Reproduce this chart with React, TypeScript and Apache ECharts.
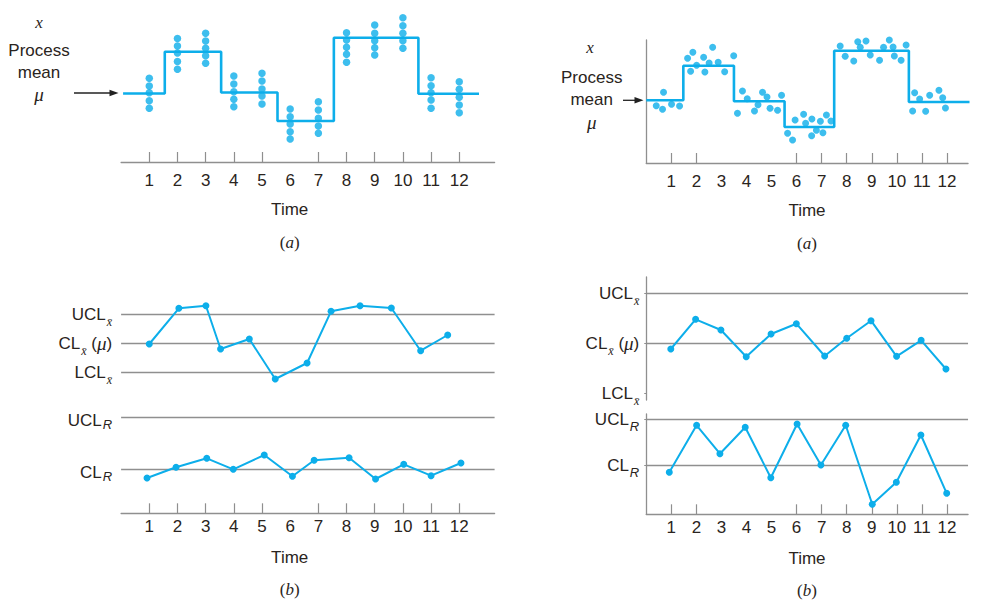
import React, { useEffect, useRef } from 'react';
import * as echarts from 'echarts';

// ---------- data ----------
const timeLabels = ['1', '2', '3', '4', '5', '6', '7', '8', '9', '10', '11', '12'];
const timeValues = [1, 2, 3, 4, 5, 6, 7, 8, 9, 10, 11, 12];
const ticksLeft = [1, 2, 3, 4, 5, 7, 8, 9, 10, 11, 12];
const ticksRight = [1, 2, 6, 7, 8, 9, 10, 11, 12];

// (a) left: process mean (step) and samples stacked at each time
const meanStepLeftX = [0.07, 1.55, 3.55, 5.55, 7.55, 10.55, 12.7];
const meanStepLeftY = [6.85, 11.03, 6.95, 4.1, 12.43, 6.83, 6.83];
const samplesLeft = [
  [8.37, 7.6, 6.93, 6.13, 5.37],
  [12.35, 11.6, 10.9, 10.05, 9.27],
  [12.87, 12.1, 11.37, 10.63, 9.87],
  [8.6, 7.8, 7.03, 6.27, 5.53],
  [8.87, 8.1, 7.3, 6.6, 5.8],
  [5.3, 4.53, 3.8, 3.03, 2.3],
  [6.03, 5.2, 4.37, 3.6, 2.87],
  [12.93, 12.2, 11.47, 10.77, 9.97],
  [13.7, 12.87, 12.13, 11.43, 10.7],
  [14.43, 13.63, 12.87, 12.13, 11.37],
  [8.43, 7.63, 6.93, 6.2, 5.37],
  [8.03, 7.27, 6.47, 5.7, 4.93],
];

// (a) right: process mean (step) and individual observations
const meanStepRightX = [0, 1.48, 3.5, 5.52, 7.5, 10.48, 12.9];
const meanStepRightY = [6.27, 9.73, 6.17, 3.6, 11.23, 6.1, 6.1];
const obsRightX = [
  0.4, 0.65, 0.69, 1.01, 1.33,
  1.65, 1.86, 1.77, 2.01, 2.29, 2.34, 2.51, 2.65, 2.87, 3.13, 3.49,
  3.64, 3.84, 4.03, 4.32, 4.46, 4.64, 4.82, 4.94, 5.24, 5.4,
  5.64, 5.84, 5.94, 6.28, 6.36, 6.61, 6.6, 6.79, 6.95, 7.05, 7.19, 7.37,
  7.74, 7.94, 8.28, 8.44, 8.54, 8.77, 8.94, 9.31, 9.47, 9.7, 9.85, 9.9, 10.17, 10.37,
  10.63, 10.71, 10.91, 11.15, 11.31, 11.68, 11.83, 11.94,
];
const obsRightY = [
  5.73, 5.37, 7.07, 5.87, 5.7,
  10.47, 11.07, 9.17, 9.77, 10.57, 9.1, 10.0, 11.57, 10.07, 9.13, 10.73,
  4.97, 7.2, 6.43, 5.2, 5.83, 7.07, 6.6, 5.47, 5.27, 6.77,
  2.97, 2.3, 4.3, 4.87, 3.97, 4.4, 2.73, 3.27, 4.17, 3.03, 4.8, 4.2,
  11.7, 10.67, 10.2, 12.13, 11.57, 12.2, 10.8, 10.27, 11.57, 12.3, 11.6, 10.7, 10.27, 11.8,
  5.2, 7.03, 6.4, 5.17, 6.77, 7.27, 6.53, 5.5,
];

// (b) left: x-bar and R charts
const xbarLeftX = [1.0, 2.05, 3.01, 3.53, 4.55, 5.47, 6.6, 7.45, 8.48, 9.59, 10.63, 11.59];
const xbarLeftY = [16.93, 20.5, 20.76, 16.43, 17.43, 13.43, 15.03, 20.2, 20.76, 20.53, 16.26, 17.83];
const rangeLeftX = [0.92, 1.95, 3.04, 3.98, 5.08, 6.08, 6.85, 8.09, 9.03, 10.03, 11.0, 12.06];
const rangeLeftY = [3.53, 4.6, 5.5, 4.4, 5.83, 3.7, 5.3, 5.56, 3.43, 4.9, 3.76, 5.03];
const limitsLeft = [19.9, 17.0, 14.1, 9.56, 4.4]; // UCLx, CLx, LCLx, UCLR, CLR

// (b) right: x-bar and R charts
const xbarRightX = [0.98, 1.97, 2.98, 3.99, 4.98, 5.99, 7.12, 8.0, 8.97, 9.99, 10.97, 11.96];
const xbarRightY = [5.1, 8.07, 7.0, 4.33, 6.6, 7.63, 4.4, 6.17, 7.93, 4.37, 5.97, 3.1];
const rangeRightX = [0.92, 2.01, 2.94, 3.95, 4.97, 6.02, 6.97, 7.96, 9.02, 9.98, 10.96, 11.99];
const rangeRightY = [4.2, 8.9, 6.06, 8.7, 3.66, 9.03, 4.93, 8.9, 1.0, 3.2, 7.93, 2.1];
const xbarLimitsRight = [10.67, 5.67, 0.67]; // UCLx, CLx, LCLx
const rangeLimitsRight = [9.5, 4.9]; // UCLR, CLR

// ---------- styles ----------
const BLUE = '#0daeea';
const GRAY = '#8f8f8f';
const TEXT = '#2a2420';
const SANS = "'Liberation Sans', Arial, sans-serif";
const SERIF = "'Liberation Serif', 'DejaVu Serif', serif";
const FS = 17;

const zip = (xs: number[], ys: number[]) => xs.map((x, i) => [x, ys[i]]);

const XBAR = 'x\u0304';
const limitLabel = (kind: string, rLow: boolean) => {
  const m = rLow ? 'mr' : 'm';
  switch (kind) {
    case 'UCLx': return '{m|UCL}{xs|' + XBAR + '}';
    case 'CLx': return '{m|CL}{xs|' + XBAR + '}{m| (}{mu|\u03bc}{m|)}';
    case 'LCLx': return '{m|LCL}{xs|' + XBAR + '}';
    case 'UCLR': return '{' + m + '|UCL}{rs|R}';
    case 'CLR': return '{' + m + '|CL}{rs|R}';
  }
  return '';
};

const richStyles = {
  m: { fontSize: FS, fontFamily: SANS, color: TEXT },
  mr: { fontSize: FS, fontFamily: SANS, color: TEXT, padding: [6, 0, 0, 0] },
  xs: { fontSize: 12, fontFamily: SERIF, fontStyle: 'italic', color: TEXT, padding: [16, 0, 0, 1] },
  rs: { fontSize: 13, fontFamily: SANS, fontStyle: 'italic', color: TEXT, padding: [14, 0, 0, 1] },
  mu: { fontSize: 19, fontFamily: SERIF, fontStyle: 'italic', color: TEXT },
};

const makeFormatter = (values: number[], kinds: string[], rLow: boolean) => (v: number) => {
  const i = values.findIndex((x) => Math.abs(x - v) < 1e-6);
  return i >= 0 ? limitLabel(kinds[i], rLow) : '';
};

const xAxis = (gridIndex: number, max: number, ticks: number[], margin: number, visible = true) => ({
  type: 'value',
  gridIndex,
  min: 0,
  max,
  show: visible,
  axisLine: { show: true, onZero: false, lineStyle: { color: GRAY, width: 1.3 } },
  axisTick: { show: true, inside: true, length: 10, customValues: ticks, lineStyle: { color: GRAY, width: 1.2 } },
  axisLabel: {
    show: true,
    customValues: timeValues,
    formatter: (v: number) => timeLabels[Math.round(v) - 1] ?? '',
    margin,
    color: TEXT,
    fontSize: FS,
    fontFamily: SANS,
  },
  splitLine: { show: false },
});

const limitMarkLine = (values: number[]) => ({
  silent: true,
  symbol: 'none',
  z: 1,
  label: { show: false },
  lineStyle: { color: GRAY, width: 1.3, type: 'solid' },
  emphasis: { disabled: true },
  data: values.map((v) => ({ yAxis: v })),
});

const text = (t: string, x: number, y: number, extra: any = {}) => ({
  type: 'text',
  x,
  y,
  silent: true,
  style: { text: t, fontSize: FS, fontFamily: SANS, fill: TEXT, align: 'center', verticalAlign: 'middle', ...extra },
});

const caption = (letter: string, x: number, y: number) => ({
  type: 'text',
  x,
  y,
  silent: true,
  style: {
    text: '{p|(}{i|' + letter + '})' .replace('})', '}{p|)}'),
    align: 'center',
    verticalAlign: 'middle',
    rich: {
      p: { fontSize: FS, fontFamily: SERIF, fill: TEXT, color: TEXT },
      i: { fontSize: FS, fontFamily: SERIF, fontStyle: 'italic', fill: TEXT, color: TEXT },
    },
  },
});

const arrow = (x1: number, x2: number, y: number) => [
  { type: 'line', silent: true, shape: { x1, y1: y, x2: x2 - 6, y2: y }, style: { stroke: '#222', lineWidth: 1.3 } },
  { type: 'polygon', silent: true, shape: { points: [[x2, y], [x2 - 9, y - 3.2], [x2 - 9, y + 3.2]] }, style: { fill: '#222' } },
];

export default function App() {
  const ref = useRef<HTMLDivElement>(null);

  useEffect(() => {
    if (!ref.current) return;
    const chart = echarts.init(ref.current, undefined, { renderer: 'svg' });

    const leftW = 373.5;
    const leftMax = leftW / 28.18;
    const rightW = 321.8;
    const rightMax = rightW / 25.06;

    const samplePoints: number[][] = [];
    samplesLeft.forEach((col, i) => col.forEach((v) => samplePoints.push([timeValues[i], v])));

    const option: any = {
      animation: false,
      grid: [
        { left: 121.1, top: 12, width: leftW, height: 150 },
        { left: 646.24, top: 40, width: rightW, height: 123 },
        { left: 121.1, top: 293.3, width: leftW, height: 220 },
        { left: 646.24, top: 277, width: rightW, height: 123 },
        { left: 646.24, top: 414, width: rightW, height: 100.3 },
      ],
      xAxis: [
        xAxis(0, leftMax, ticksLeft, 10),
        xAxis(1, rightMax, ticksRight, 10),
        xAxis(2, leftMax, ticksLeft, 5),
        xAxis(3, rightMax, ticksRight, 5, false),
        xAxis(4, rightMax, ticksRight, 5),
      ],
      yAxis: [
        { type: 'value', gridIndex: 0, min: 0, max: 15, show: false },
        {
          type: 'value', gridIndex: 1, min: 0, max: 12.3,
          axisLine: { show: true, onZero: false, lineStyle: { color: GRAY, width: 1.3 } },
          axisTick: { show: false }, axisLabel: { show: false }, splitLine: { show: false },
        },
        {
          type: 'value', gridIndex: 2, min: 0, max: 22,
          axisLine: { show: false }, axisTick: { show: false }, splitLine: { show: false },
          axisLabel: {
            customValues: limitsLeft,
            formatter: makeFormatter(limitsLeft, ['UCLx', 'CLx', 'LCLx', 'UCLR', 'CLR'], true),
            rich: richStyles, margin: 9,
          },
        },
        {
          type: 'value', gridIndex: 3, min: 0, max: 12.3,
          axisLine: { show: true, onZero: false, lineStyle: { color: GRAY, width: 1.3 } },
          axisTick: { show: true, length: 2, customValues: xbarLimitsRight, lineStyle: { color: GRAY } },
          splitLine: { show: false },
          axisLabel: {
            customValues: xbarLimitsRight,
            formatter: makeFormatter(xbarLimitsRight, ['UCLx', 'CLx', 'LCLx'], false),
            rich: richStyles, margin: 7,
          },
        },
        {
          type: 'value', gridIndex: 4, min: 0, max: 10.03,
          axisLine: { show: true, onZero: false, lineStyle: { color: GRAY, width: 1.3 } },
          axisTick: { show: true, length: 2, customValues: rangeLimitsRight, lineStyle: { color: GRAY } },
          splitLine: { show: false },
          axisLabel: {
            customValues: rangeLimitsRight,
            formatter: makeFormatter(rangeLimitsRight, ['UCLR', 'CLR'], false),
            rich: richStyles, margin: 7,
          },
        },
      ],
      series: [
        {
          type: 'line', xAxisIndex: 0, yAxisIndex: 0, step: 'end', showSymbol: false,
          data: zip(meanStepLeftX, meanStepLeftY), lineStyle: { color: BLUE, width: 2.6 }, z: 2,
        },
        {
          type: 'scatter', xAxisIndex: 0, yAxisIndex: 0, data: samplePoints,
          symbolSize: 7.5, itemStyle: { color: BLUE }, z: 3,
        },
        {
          type: 'line', xAxisIndex: 1, yAxisIndex: 1, step: 'end', showSymbol: false, clip: false,
          data: zip(meanStepRightX, meanStepRightY), lineStyle: { color: BLUE, width: 2.6 }, z: 2,
        },
        {
          type: 'scatter', xAxisIndex: 1, yAxisIndex: 1, clip: false, data: zip(obsRightX, obsRightY),
          symbolSize: 7, itemStyle: { color: BLUE }, z: 3,
        },
        {
          type: 'line', xAxisIndex: 2, yAxisIndex: 2, data: zip(xbarLeftX, xbarLeftY),
          symbol: 'circle', symbolSize: 7, lineStyle: { color: BLUE, width: 2 }, itemStyle: { color: BLUE },
          markLine: limitMarkLine(limitsLeft), z: 3,
        },
        {
          type: 'line', xAxisIndex: 2, yAxisIndex: 2, data: zip(rangeLeftX, rangeLeftY),
          symbol: 'circle', symbolSize: 7, lineStyle: { color: BLUE, width: 2 }, itemStyle: { color: BLUE }, z: 3,
        },
        {
          type: 'line', xAxisIndex: 3, yAxisIndex: 3, data: zip(xbarRightX, xbarRightY),
          symbol: 'circle', symbolSize: 7, lineStyle: { color: BLUE, width: 2 }, itemStyle: { color: BLUE },
          markLine: limitMarkLine(xbarLimitsRight.slice(0, 2)), z: 3,
        },
        {
          type: 'line', xAxisIndex: 4, yAxisIndex: 4, data: zip(rangeRightX, rangeRightY),
          symbol: 'circle', symbolSize: 7, lineStyle: { color: BLUE, width: 2 }, itemStyle: { color: BLUE },
          markLine: limitMarkLine(rangeLimitsRight), z: 3,
        },
      ],
      graphic: [
        text('x', 39, 22, { fontFamily: SERIF, fontStyle: 'italic' }),
        text('Process', 39, 50),
        text('mean', 39, 72),
        text('\u03bc', 39, 94, { fontFamily: SERIF, fontStyle: 'italic', fontSize: 19 }),
        ...arrow(74, 118.5, 93),
        text('x', 590, 47.5, { fontFamily: SERIF, fontStyle: 'italic' }),
        text('Process', 591.7, 77),
        text('mean', 591.7, 99),
        text('\u03bc', 591.7, 122, { fontFamily: SERIF, fontStyle: 'italic', fontSize: 19 }),
        ...arrow(623, 643.5, 100.3),
        text('Time', 289.7, 209),
        text('Time', 807, 210.7),
        text('Time', 289.7, 557.3),
        text('Time', 807, 558.3),
        caption('a', 289.7, 242.7),
        caption('a', 807, 243.3),
        caption('b', 289.7, 589),
        caption('b', 807, 590.7),
      ],
    };

    chart.setOption(option);
    return () => chart.dispose();
  }, []);

  return <div ref={ref} style={{ position: 'absolute', left: 0, top: 0, width: 994, height: 609, background: '#fff' }} />;
}
